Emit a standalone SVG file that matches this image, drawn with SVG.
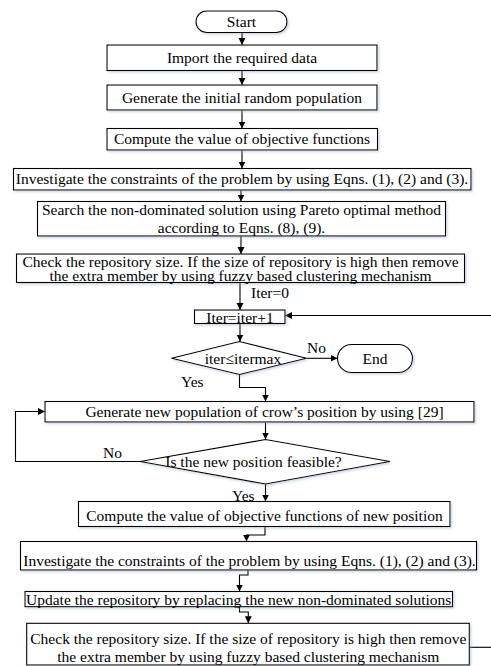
<svg xmlns="http://www.w3.org/2000/svg" width="491" height="666" viewBox="0 0 491 666">
<defs>
<style>
.box{fill:#fff;stroke:#000;stroke-width:1.1;filter:url(#sh)}
.t{font-family:"Liberation Serif","Times New Roman",serif;font-size:15.5px;fill:#000;text-anchor:middle}
.l{font-family:"Liberation Serif","Times New Roman",serif;font-size:15.5px;fill:#000}
.c{fill:none;stroke:#000;stroke-width:1.1}
</style>
<filter id="sh" x="-5%" y="-20%" width="110%" height="150%">
<feDropShadow dx="1.5" dy="1.5" stdDeviation="0.8" flood-color="#8fa6bf" flood-opacity="0.45"/>
</filter>
<marker id="ah" markerWidth="8" markerHeight="8" refX="7" refY="4" orient="auto" markerUnits="userSpaceOnUse">
<path d="M0,0.5 L7,4 L0,7.5 Z" fill="#000"/>
</marker>
</defs>
<rect width="491" height="666" fill="#fff"/>

<g id="connectors">
<path class="c" d="M242,32.5 V45" marker-end="url(#ah)"/>
<path class="c" d="M242,70.5 V85" marker-end="url(#ah)"/>
<path class="c" d="M242,110 V128.5" marker-end="url(#ah)"/>
<path class="c" d="M242,150 V168.5" marker-end="url(#ah)"/>
<path class="c" d="M241,190 V201.5" marker-end="url(#ah)"/>
<path class="c" d="M241,236 V254" marker-end="url(#ah)"/>
<path class="c" d="M240,282.5 V310" marker-end="url(#ah)"/>
<path class="c" d="M240,323.5 V341.5" marker-end="url(#ah)"/>
<path class="c" d="M306.5,358.3 H337.5" marker-end="url(#ah)"/>
<path class="c" d="M491,315.5 H285" marker-end="url(#ah)"/>
<path class="c" d="M239.5,374.5 V387.5 H265.5 V401.5" marker-end="url(#ah)"/>
<path class="c" d="M265.5,422 V439.5" marker-end="url(#ah)"/>
<path class="c" d="M140,461.5 H15.5 V411.5 H45" marker-end="url(#ah)"/>
<path class="c" d="M265.5,484 V501.5" marker-end="url(#ah)"/>
<path class="c" d="M265,527 V535 H246.5 V541.5" marker-end="url(#ah)"/>
<path class="c" d="M248,570 V575 H239.5 V591.5" marker-end="url(#ah)"/>
<path class="c" d="M239.5,606.7 V612 H248.3 V623.3" marker-end="url(#ah)"/>
<path class="c" d="M469.3,647.3 H491"/>
<text class="l" x="251" y="298">Iter=0</text>
<text class="l" x="307" y="352.5">No</text>
<text class="l" x="181" y="386.5">Yes</text>
<text class="l" x="103" y="458">No</text>
<text class="l" x="232" y="500.5">Yes</text>
</g>

<g id="start">
<rect class="box" x="196" y="11" width="91" height="21.5" rx="10.75"/>
<text class="t" x="241.5" y="27">Start</text>
</g>
<g id="import">
<rect class="box" x="107" y="45" width="270" height="25.5"/>
<text class="t" x="242" y="63">Import the required data</text>
</g>
<g id="initpop">
<rect class="box" x="107" y="85" width="270" height="25"/>
<text class="t" x="242" y="102.5">Generate the initial random population</text>
</g>
<g id="compute1">
<rect class="box" x="107" y="128.5" width="270.5" height="21.5"/>
<text class="t" x="242" y="144">Compute the value of objective functions</text>
</g>
<g id="investigate1">
<rect class="box" x="13.5" y="168.5" width="457.5" height="21.5"/>
<text class="t" x="242" y="184">Investigate the constraints of the problem by using Eqns. (1), (2) and (3).</text>
</g>
<g id="search">
<rect class="box" x="37.5" y="201.5" width="408" height="34.5"/>
<text class="t" x="241.5" y="215">Search the non-dominated solution using Pareto optimal method</text>
<text class="t" x="241.5" y="233">according to Eqns. (8), (9).</text>
</g>
<g id="check1">
<rect class="box" x="16.5" y="254" width="448" height="28.5"/>
<text class="t" x="240.5" y="266.5">Check the repository size. If the size of repository is high then remove</text>
<text class="t" x="240.5" y="281">the extra member by using fuzzy based clustering mechanism</text>
</g>
<g id="iter">
<rect class="box" x="194.5" y="310" width="90.5" height="13.5"/>
<text class="t" x="240" y="322.5">Iter=iter+1</text>
</g>
<g id="cond1">
<polygon class="box" points="171.5,358.3 239.5,341.5 306.5,358.3 239.5,374.5"/>
<text class="t" x="243" y="363.5">iter≤itermax</text>
</g>
<g id="end">
<rect class="box" x="337.5" y="344.5" width="75" height="28" rx="14"/>
<text class="t" x="375" y="363.5">End</text>
</g>
<g id="genpos">
<rect class="box" x="45" y="401.5" width="429" height="20.5"/>
<text class="t" x="264.5" y="417">Generate new population of crow’s position by using [29]</text>
</g>
<g id="cond2">
<polygon class="box" points="140,461.5 265.5,439.5 390,461.5 265.5,484"/>
<text class="t" x="253.5" y="466.5">Is the new position feasible?</text>
</g>
<g id="compute2">
<rect class="box" x="78.5" y="501.5" width="371.5" height="25"/>
<text class="t" x="264.5" y="521">Compute the value of objective functions of new position</text>
</g>
<g id="investigate2">
<rect class="box" x="20.5" y="541.5" width="456" height="28.5"/>
<text class="t" x="249.5" y="565.5">Investigate the constraints of the problem by using Eqns. (1), (2) and (3).</text>
</g>
<g id="update">
<rect class="box" x="25" y="591.5" width="427.5" height="15.2"/>
<text class="t" x="238.7" y="605">Update the repository by replacing the new non-dominated solutions</text>
</g>
<g id="check2">
<rect class="box" x="26.7" y="623.3" width="442.6" height="41.7"/>
<text class="t" x="248.3" y="643.5">Check the repository size. If the size of repository is high then remove</text>
<text class="t" x="248.3" y="661.5">the extra member by using fuzzy based clustering mechanism</text>
</g>
</svg>
